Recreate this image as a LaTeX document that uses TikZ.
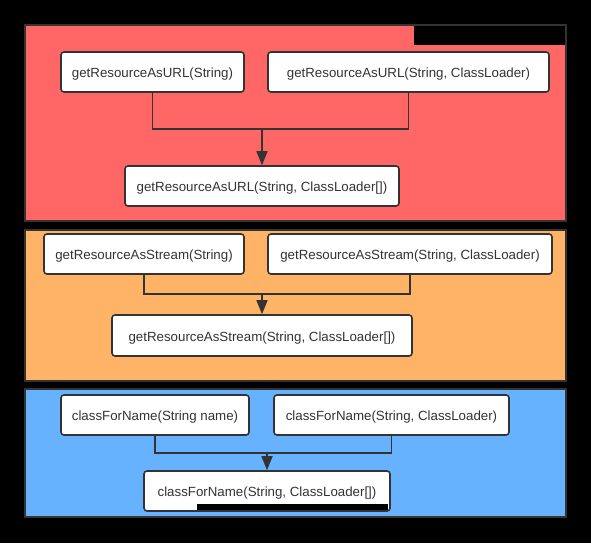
\documentclass[tikz,border=0pt]{standalone}
\usepackage{fontspec}
\setmainfont{Liberation Sans}
\usetikzlibrary{arrows.meta,positioning}
\definecolor{grpred}{HTML}{FF6666}
\definecolor{grporange}{HTML}{FFB366}
\definecolor{grpblue}{HTML}{66B2FF}
\definecolor{lineg}{HTML}{333333}

\begin{document}
\begin{tikzpicture}[x=1pt,y=-1pt,
    group/.style={draw=lineg,line width=2pt},
    method/.style={draw=lineg,fill=white,rounded corners=3pt,line width=1.6pt,
      minimum height=40pt,inner sep=0pt,text=lineg,text height=11.5pt,text depth=0.5pt,
      font=\fontsize{13.3}{15}\selectfont},
    link/.style={draw=lineg,line width=1.6pt},
    flow/.style={link,-{Triangle[length=14pt,width=11pt]}}
  ]
    \fill[black] (0,0) rectangle (591,543);
    % three groups
    \filldraw[group,fill=grpred] (25,25) rectangle (566,221);
    \filldraw[group,fill=grporange] (25,230) rectangle (566,381);
    \filldraw[group,fill=grpblue] (25,389) rectangle (566,517);
    \fill[black] (414,26) rectangle (565,45);
    % getResourceAsURL
    \node[method,minimum width=183pt] (a1) at (152.5,72) {getResourceAsURL(String)};
    \node[method,minimum width=281pt] (a2) at (408.5,72) {getResourceAsURL(String, ClassLoader)};
    \node[method,minimum width=274pt] (a3) at (262,186) {getResourceAsURL(String, ClassLoader[])};
    \coordinate (ja) at (262,129);
    \draw[link] (a1.south) |- (ja) -| (a2.south);
    \draw[flow] (ja) -- (a3.north);
    % getResourceAsStream
    \node[method,minimum width=200pt] (b1) at (144,254) {getResourceAsStream(String)};
    \node[method,minimum width=284pt] (b2) at (410,254) {getResourceAsStream(String, ClassLoader)};
    \node[method,minimum width=300pt,minimum height=41pt] (b3) at (262,335.5) {getResourceAsStream(String, ClassLoader[])};
    \coordinate (jb) at (262,294);
    \draw[link] (b1.south) |- (jb) -| (b2.south);
    \draw[flow] (jb) -- (b3.north);
    % classForName
    \node[method,minimum width=188pt] (c1) at (155,415) {classForName(String name)};
    \node[method,minimum width=235pt] (c2) at (391.5,415) {classForName(String, ClassLoader)};
    \node[method,minimum width=246pt] (c3) at (267,491) {classForName(String, ClassLoader[])};
    \coordinate (jc) at (267,453);
    \draw[link] (c1.south) |- (jc) -| (c2.south);
    \draw[flow] (jc) -- (c3.north);
    \fill[black] (197,504) rectangle (388,510);
  \end{tikzpicture}
\end{document}
